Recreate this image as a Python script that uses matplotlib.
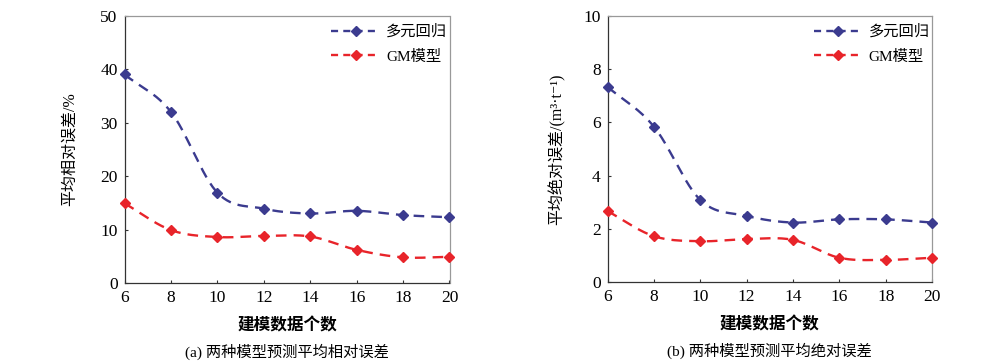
import numpy as np
import matplotlib.pyplot as plt
from matplotlib.lines import Line2D

plt.rcParams['font.family'] = ['Liberation Serif', 'Noto Sans CJK SC', 'DejaVu Sans']

# data
n_model = [6, 8, 10, 12, 14, 16, 18, 20]
rel_multi = [39.0, 32.0, 16.9, 13.9, 13.0, 13.5, 12.7, 12.3]
rel_gm = [14.9, 9.9, 8.6, 8.8, 8.7, 6.2, 4.8, 4.9]
abs_multi = [7.33, 5.84, 3.09, 2.49, 2.24, 2.36, 2.36, 2.24]
abs_gm = [2.67, 1.73, 1.54, 1.62, 1.59, 0.92, 0.84, 0.92]
names = ['多元回归', 'GM模型']

c_blue = '#3b3b8f'
c_red = '#e8242a'


def smooth(x, y, n=30):
    # catmull-rom style smoothing, like excel "smoothed line"
    x = np.asarray(x, float)
    y = np.asarray(y, float)
    px = np.concatenate([[2 * x[0] - x[1]], x, [2 * x[-1] - x[-2]]])
    py = np.concatenate([[2 * y[0] - y[1]], y, [2 * y[-1] - y[-2]]])
    xs, ys = [], []
    t = np.linspace(0, 1, n)
    for i in range(1, len(px) - 2):
        for arr, out in ((px, xs), (py, ys)):
            p0, p1, p2, p3 = arr[i - 1:i + 3]
            out.extend(0.5 * (2 * p1 + (-p0 + p2) * t
                              + (2 * p0 - 5 * p1 + 4 * p2 - p3) * t ** 2
                              + (-p0 + 3 * p1 - 3 * p2 + p3) * t ** 3))
    return xs, ys


fig = plt.figure(figsize=(10, 3.64), dpi=100)
ax1 = fig.add_axes([0.1245, 0.2225, 0.325, 0.7345])
ax2 = fig.add_axes([0.6075, 0.2245, 0.3245, 0.7325])

panels = [
    (ax1, rel_multi, rel_gm, 50, 10, '平均相对误差/%', '(a) 两种模型预测平均相对误差', 16),
    (ax2, abs_multi, abs_gm, 10, 2, '平均绝对误差/(m³·t⁻¹)', '(b) 两种模型预测平均绝对误差', 13),
]

for ax, ym, yg, ymax, ystep, ylab, cap, lp in panels:
    for y, c in ((ym, c_blue), (yg, c_red)):
        sx, sy = smooth(n_model, y)
        ax.plot(sx, sy, color=c, lw=1.7, ls=(0, (4.5, 3)), clip_on=False)
        ax.plot(n_model, y, 'D', color=c, ms=5, clip_on=False, zorder=3)
    ax.set_xlim(6, 20)
    ax.set_ylim(0, ymax)
    ax.set_xticks(n_model)
    ax.set_yticks(np.arange(0, ymax + ystep / 2, ystep))
    ax.tick_params(direction='in', length=2.5, labelsize=12.5, color='#333333', pad=5)
    for s in ax.spines.values():
        s.set_color('#999999')
        s.set_linewidth(0.9)
    ax.spines['left'].set_color('#333333')
    ax.spines['bottom'].set_color('#333333')
    ax.set_ylabel(ylab, fontsize=11.5, labelpad=lp)
    ax.set_xlabel('建模数据个数', fontsize=12, fontweight='bold', labelpad=9)
    ax.text(0.5, -0.258, cap, transform=ax.transAxes, ha='center', va='center', fontsize=11)
    handles = [Line2D([], [], color=c, lw=1.7, ls=(0, (3, 2.2)), marker='D', ms=5)
               for c in (c_blue, c_red)]
    ax.legend(handles, names, loc='upper right', frameon=False, fontsize=11,
              handlelength=3.2, handletextpad=0.4, labelspacing=0.7,
              bbox_to_anchor=(1.035, 1.018))

fig.savefig('out.png', dpi=100)
